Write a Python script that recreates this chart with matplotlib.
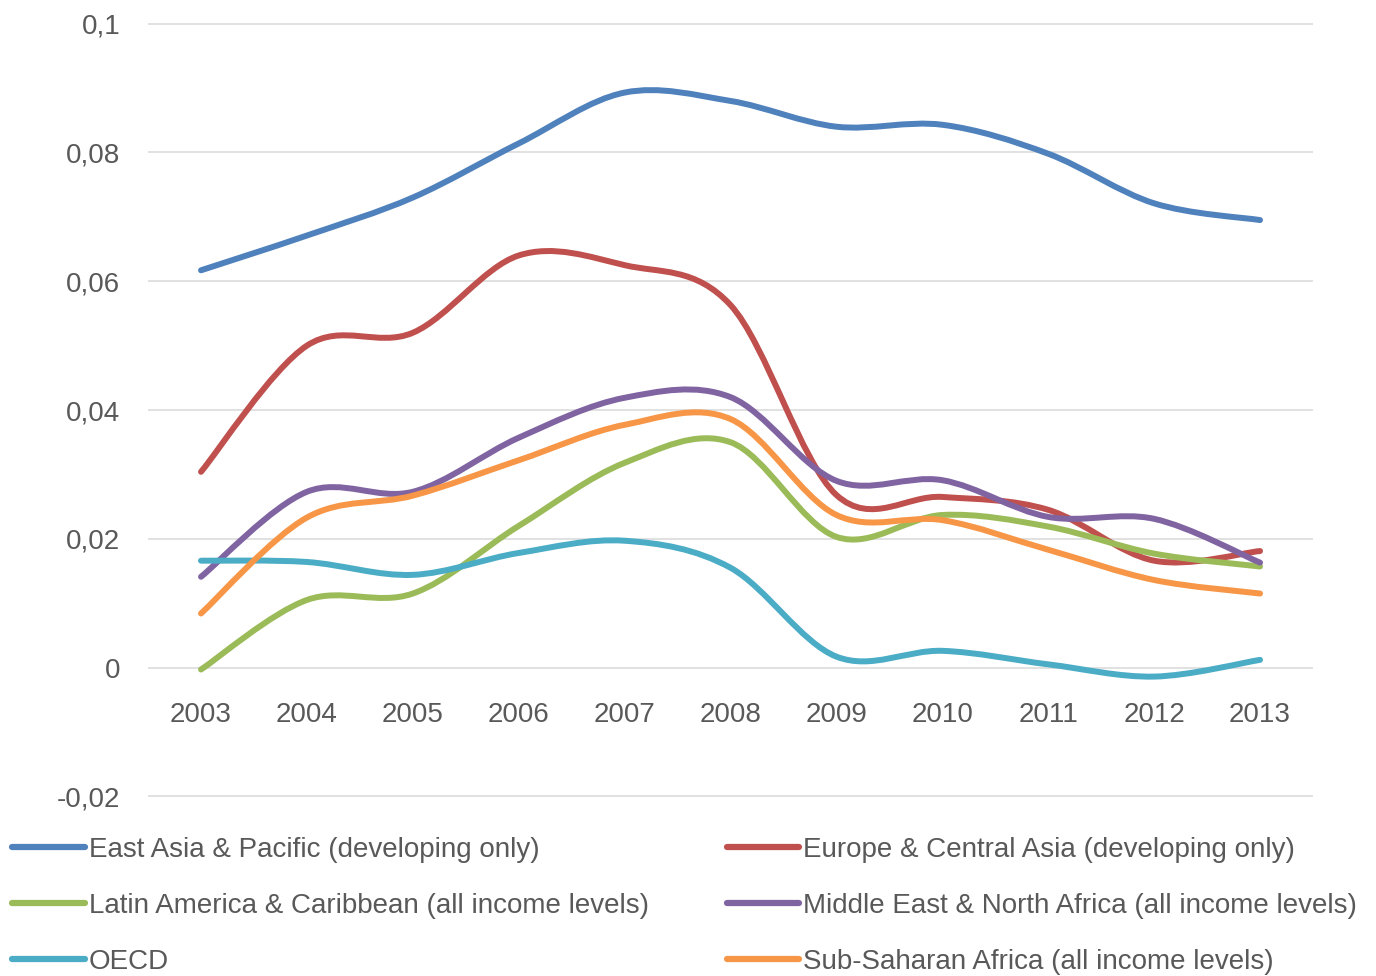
import matplotlib
matplotlib.use("Agg")
import matplotlib.pyplot as plt
from matplotlib.path import Path
from matplotlib.patches import PathPatch
from matplotlib.lines import Line2D
import numpy as np

plt.rcParams['font.family'] = ['Liberation Sans', 'DejaVu Sans']

years = ['2003', '2004', '2005', '2006', '2007', '2008',
         '2009', '2010', '2011', '2012', '2013']

east_asia = [0.0617, 0.0671, 0.0730, 0.0814, 0.0893, 0.0880,
             0.0840, 0.0843, 0.0798, 0.0721, 0.0695]
europe = [0.0304, 0.0500, 0.0520, 0.0640, 0.0625, 0.0563,
          0.0268, 0.0265, 0.0245, 0.0166, 0.0181]
latin_america = [-0.0003, 0.0105, 0.0115, 0.0220, 0.0318, 0.0350,
                 0.0203, 0.0237, 0.0219, 0.0177, 0.0157]
middle_east = [0.0141, 0.0273, 0.0273, 0.0357, 0.0419, 0.0420,
               0.0290, 0.0291, 0.0234, 0.0231, 0.0163]
oecd = [0.0166, 0.0164, 0.0144, 0.0178, 0.0197, 0.0155,
        0.0017, 0.0026, 0.0005, -0.0014, 0.0012]
sub_saharan = [0.0084, 0.0233, 0.0267, 0.0322, 0.0377, 0.0386,
               0.0237, 0.0229, 0.0183, 0.0136, 0.0115]

series = [
    ("East Asia & Pacific (developing only)", east_asia, "#4F81BD"),
    ("Europe & Central Asia (developing only)", europe, "#C0504D"),
    ("Latin America & Caribbean (all income levels)", latin_america, "#9BBB59"),
    ("Middle East & North Africa (all income levels)", middle_east, "#8064A2"),
    ("OECD", oecd, "#4BACC6"),
    ("Sub-Saharan Africa (all income levels)", sub_saharan, "#F79646"),
]

y_ticks = [-0.02, 0, 0.02, 0.04, 0.06, 0.08, 0.1]
y_labels = ['-0,02', '0', '0,02', '0,04', '0,06', '0,08', '0,1']

text_color = '#595959'
grid_color = '#D9D9D9'
lw = 4.3


def smooth_path(x, y):
    # excel-like smoothed line: cubic bezier through the points
    pts = np.column_stack([x, y]).astype(float)
    ext = np.vstack([pts[0], pts, pts[-1]])
    verts = [pts[0]]
    codes = [Path.MOVETO]
    for i in range(len(pts) - 1):
        p0, p1, p2, p3 = ext[i], ext[i + 1], ext[i + 2], ext[i + 3]
        c1 = p1 + (p2 - p0) / 6.0
        c2 = p2 - (p3 - p1) / 6.0
        verts += [c1, c2, p2]
        codes += [Path.CURVE4] * 3
    return Path(verts, codes)


fig = plt.figure(figsize=(13.76, 9.76), dpi=100)
ax = fig.add_axes([0.1076, 0.1834, 0.8466, 0.793])

x = np.arange(len(years))
for name, vals, col in series:
    patch = PathPatch(smooth_path(x, vals), facecolor='none', edgecolor=col,
                      lw=lw, capstyle='round', joinstyle='round', zorder=3)
    ax.add_patch(patch)

ax.set_xlim(-0.5, len(years) - 0.5)
ax.set_ylim(-0.0201, 0.1001)
ax.set_yticks(y_ticks)
ax.set_yticklabels(y_labels)
ax.set_xticks(x)
ax.set_xticklabels(years)
ax.grid(axis='y', color=grid_color, lw=1.1)
ax.set_axisbelow(True)
for s in ax.spines.values():
    s.set_visible(False)
ax.spines['bottom'].set_position(('data', 0))
ax.tick_params(axis='both', length=0, colors=text_color, labelsize=20)
ax.tick_params(axis='x', pad=25)
ax.tick_params(axis='y', pad=20)

handles = [Line2D([], [], color=c, lw=4.5, solid_capstyle='round') for _, _, c in series]
labels = [n for n, _, _ in series]
order = [0, 2, 4, 1, 3, 5]
fig.legend([handles[i] for i in order], [labels[i] for i in order],
           loc='upper left', bbox_to_anchor=(0.003, 0.151), ncol=2,
           frameon=False, fontsize=20, labelcolor=text_color,
           handlelength=2.6, handletextpad=0.15, labelspacing=1.08,
           columnspacing=2.8, borderaxespad=0, borderpad=0.3)

fig.savefig('out.png', dpi=100)
